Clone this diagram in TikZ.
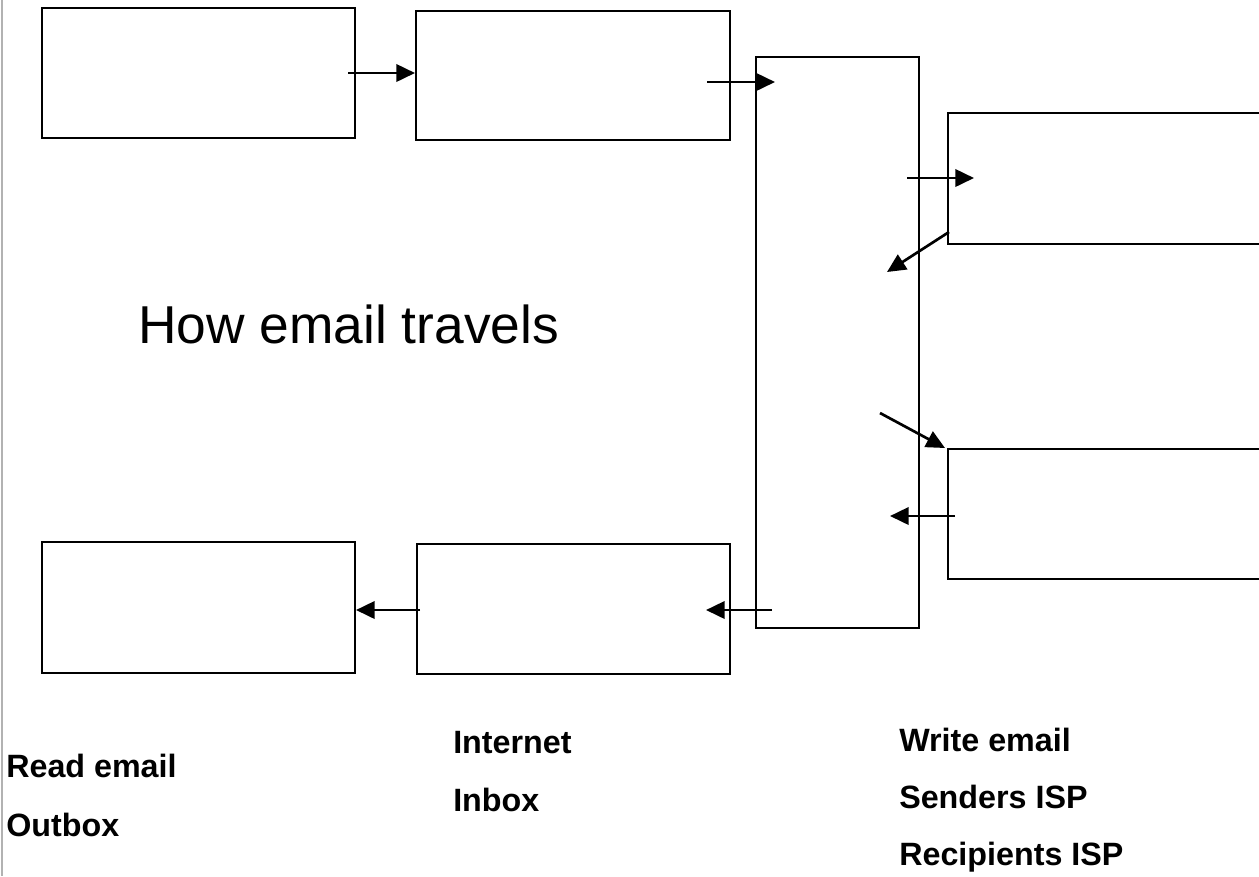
\documentclass[tikz,border=0pt]{standalone}
\usepackage{fontspec}
\setmainfont{Liberation Sans}
\usetikzlibrary{arrows.meta}
\tikzset{
  box/.style={draw=black, line width=2pt, fill=none, inner sep=0pt, outer sep=0pt, rectangle},
  conn/.style={line width=2pt, -{Triangle[length=14pt, width=13pt]}},
  lbl/.style={anchor=base west, inner sep=0pt, font=\fontsize{24.2}{29}\selectfont\bfseries},
  ttl/.style={anchor=base west, inner sep=0pt, font=\fontsize{40}{48}\selectfont}
}
\begin{document}
\begin{tikzpicture}[x=0.75pt, y=-0.75pt]
\useasboundingbox (0,0) rectangle (1259,876);
\clip (0,0) rectangle (1259,876);
\fill[white] (0,0) rectangle (1259,876);
\draw[line width=1.2pt, color=black!30] (2,0) -- (2,876);
% boxes
\node[box, minimum width=0.75pt*313, minimum height=0.75pt*130] (b1) at (198.5,73) {};
\node[box, minimum width=0.75pt*314, minimum height=0.75pt*129] (b2) at (573,75.5) {};
\node[box, minimum width=0.75pt*163, minimum height=0.75pt*571] (net) at (837.5,342.5) {};
\node[box, minimum width=0.75pt*352, minimum height=0.75pt*131] (r1) at (1124,178.5) {};
\node[box, minimum width=0.75pt*352, minimum height=0.75pt*130] (r2) at (1124,514) {};
\node[box, minimum width=0.75pt*313, minimum height=0.75pt*131] (bl) at (198.5,607.5) {};
\node[box, minimum width=0.75pt*313, minimum height=0.75pt*130] (bm) at (573.5,609) {};
% arrow end points
\coordinate (a1s) at (348,73);  \coordinate (a1e) at (415,73);
\coordinate (a2s) at (707,82);  \coordinate (a2e) at (775,82);
\coordinate (a3s) at (907,178); \coordinate (a3e) at (974,178);
\coordinate (a4s) at (949,232); \coordinate (a4e) at (887,272);
\coordinate (a5s) at (880,413); \coordinate (a5e) at (945,448);
\coordinate (a6s) at (955,516); \coordinate (a6e) at (890,516);
\coordinate (a7s) at (772,610); \coordinate (a7e) at (706,610);
\coordinate (a8s) at (420,610); \coordinate (a8e) at (356,610);
\draw[conn] (a1s) -- (a1e);
\draw[conn] (a2s) -- (a2e);
\draw[conn] (a3s) -- (a3e);
\draw[conn] (a4s) -- (a4e);
\draw[conn] (a5s) -- (a5e);
\draw[conn] (a6s) -- (a6e);
\draw[conn] (a7s) -- (a7e);
\draw[conn] (a8s) -- (a8e);
% title
\node[ttl] (title) at (138,343) {How email travels};
% labels
\node[lbl] (l1) at (6,777) {Read email};
\node[lbl] (l2) at (6,836) {Outbox};
\node[lbl] (l3) at (453,753) {Internet};
\node[lbl] (l4) at (453,811) {Inbox};
\node[lbl] (l5) at (899,751) {Write email};
\node[lbl] (l6) at (899,808) {Senders ISP};
\node[lbl] (l7) at (899,865) {Recipients ISP};
\end{tikzpicture}
\end{document}
